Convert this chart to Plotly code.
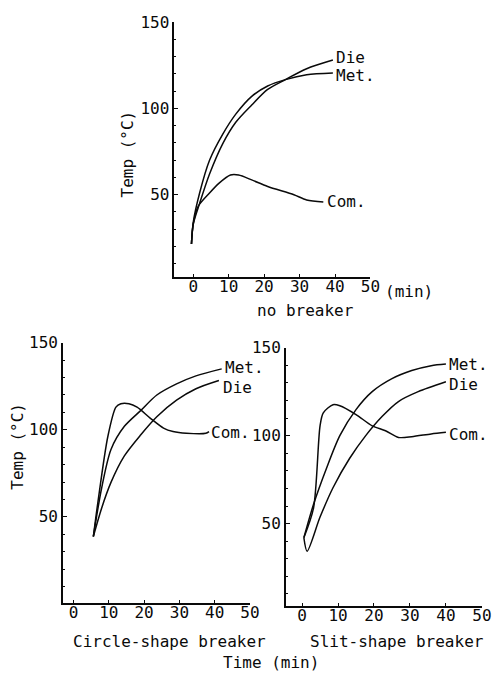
import plotly.graph_objects as go

W, H = 501, 673

# ---- data: no breaker (top) ----
nb_met_x = [-0.5, 0.0, 1.8, 4.6, 8.3, 12.0, 16.5, 21.0, 26.0, 32.0, 39.4]
nb_met_y = [21.5, 34.0, 51.0, 70.0, 85.0, 96.7, 107.0, 113.0, 116.7, 119.5, 120.5]
nb_die_x = [-0.5, 0.0, 1.8, 4.6, 8.3, 12.0, 16.5, 21.0, 26.0, 32.0, 39.4]
nb_die_y = [21.5, 33.0, 45.0, 62.0, 79.5, 92.0, 102.0, 111.0, 116.7, 123.0, 128.0]
nb_com_x = [-0.5, 0.0, 1.4, 4.6, 7.3, 10.5, 12.8, 16.5, 21.0, 28.4, 32.0, 36.7]
nb_com_y = [21.5, 33.0, 43.3, 51.0, 56.7, 61.4, 61.4, 58.6, 54.8, 50.0, 47.0, 45.8]

# ---- data: circle-shape breaker (bottom left) ----
cb_met_x = [5.6, 7.9, 10.6, 14.4, 19.0, 23.6, 29.2, 34.7, 42.0]
cb_met_y = [38.7, 66.0, 88.7, 102.0, 111.0, 120.0, 126.4, 131.0, 135.0]
cb_die_x = [5.6, 7.9, 10.6, 14.4, 19.0, 23.6, 29.2, 34.7, 41.2]
cb_die_y = [38.7, 54.7, 69.8, 85.0, 97.0, 107.5, 117.0, 123.6, 128.3]
cb_com_x = [5.6, 6.9, 9.7, 12.0, 13.4, 15.7, 18.0, 21.8, 25.5, 28.2, 32.0, 37.5, 38.4]
cb_com_y = [38.7, 58.5, 96.0, 113.0, 115.0, 115.0, 113.0, 106.6, 101.0, 99.0, 98.0, 98.0, 99.0]

# ---- data: slit-shape breaker (bottom right) ----
sb_met_x = [0.5, 3.2, 6.8, 10.5, 15.0, 19.5, 25.0, 30.5, 35.9, 40.0]
sb_met_y = [42.0, 61.0, 81.5, 100.0, 114.8, 125.0, 132.4, 137.0, 139.8, 140.7]
sb_die_x = [0.5, 1.4, 5.0, 8.6, 13.2, 17.7, 22.3, 26.8, 32.3, 40.0]
sb_die_y = [42.0, 34.3, 53.7, 70.4, 87.0, 100.0, 111.0, 119.4, 125.0, 130.6]
sb_com_x = [0.5, 3.2, 5.0, 5.9, 8.6, 10.5, 15.0, 19.5, 23.2, 26.8, 30.5, 35.9, 40.0]
sb_com_y = [42.0, 59.0, 105.6, 113.0, 117.6, 117.0, 112.0, 105.6, 102.8, 99.0, 99.4, 101.0, 101.9]

x_ticks = [0, 10, 20, 30, 40, 50]
y_ticks = [50, 100, 150]
panel_titles = ["no breaker", "Circle-shape breaker", "Slit-shape breaker"]
series_names = ["Met.", "Die", "Com."]

INK = "#0a0a0a"
FONT = "DejaVu Sans Mono"
FS = 16


def px(x):
    return x / W


def py(y):
    return 1 - y / H


fig = go.Figure()

panels = [
    ("x", "y", [(nb_met_x, nb_met_y), (nb_die_x, nb_die_y), (nb_com_x, nb_com_y)]),
    ("x2", "y2", [(cb_met_x, cb_met_y), (cb_die_x, cb_die_y), (cb_com_x, cb_com_y)]),
    ("x3", "y3", [(sb_met_x, sb_met_y), (sb_die_x, sb_die_y), (sb_com_x, sb_com_y)]),
]
for xa, ya, series in panels:
    for name, (xs, ys) in zip(series_names, series):
        fig.add_trace(go.Scatter(x=xs, y=ys, mode="lines", name=name, xaxis=xa, yaxis=ya,
                                 line=dict(color=INK, width=1.5, shape="spline", smoothing=0.8),
                                 showlegend=False, hoverinfo="skip"))


def xaxis(domain, rng, anchor):
    return dict(domain=domain, range=rng, anchor=anchor, showline=True, linecolor=INK, linewidth=1.7,
                showgrid=False, zeroline=False, tickvals=x_ticks, ticks="inside", ticklen=3,
                tickcolor=INK, tickwidth=1.2, ticklabelstandoff=-6,
                tickfont=dict(family=FONT, size=FS, color=INK), fixedrange=True)


def yaxis(domain, rng, anchor):
    return dict(domain=domain, range=rng, anchor=anchor, showline=True, linecolor=INK, linewidth=1.7,
                showgrid=False, zeroline=False, tickvals=y_ticks, ticks="inside", ticklen=4,
                tickcolor=INK, tickwidth=1.2,
                minor=dict(dtick=10, tick0=0, ticks="inside", ticklen=2, tickcolor=INK, showgrid=False),
                tickfont=dict(family=FONT, size=FS, color=INK), fixedrange=True)


fig.update_layout(
    width=W, height=H, margin=dict(l=0, r=0, t=0, b=0),
    paper_bgcolor="white", plot_bgcolor="white",
    xaxis=xaxis([px(178), px(378)], [-5.3, 50], "y"),
    yaxis=yaxis([py(271.7), py(13.3)], [2.3, 150], "x"),
    xaxis2=xaxis([px(64.3), px(255)], [-3, 50], "y2"),
    yaxis2=yaxis([py(601.7), py(338.3)], [0.7, 150], "x2"),
    xaxis3=xaxis([px(291.7), px(491.7)], [-4.5, 50], "y3"),
    yaxis3=yaxis([py(605), py(343.3)], [3.2, 150], "x3"),
)

ann = []
lab_font = dict(family=FONT, size=FS, color=INK)
# series labels at curve ends
ends = [
    ("x", "y", [(nb_die_x[-1] + 0.4, nb_die_y[-1] + 1.5, "Die"), (nb_met_x[-1] + 0.4, nb_met_y[-1] - 1.5, "Met."),
                (nb_com_x[-1] + 0.6, nb_com_y[-1], "Com.")]),
    ("x2", "y2", [(cb_met_x[-1] + 0.3, cb_met_y[-1] + 1.0, "Met."), (cb_die_x[-1] + 0.5, cb_die_y[-1] - 3.8, "Die"),
                  (cb_com_x[-1] + 0.1, cb_com_y[-1] - 0.5, "Com.")]),
    ("x3", "y3", [(sb_met_x[-1] + 0.2, sb_met_y[-1] - 0.5, "Met."), (sb_die_x[-1] + 0.3, sb_die_y[-1] - 1.5, "Die"),
                  (sb_com_x[-1] + 0.3, sb_com_y[-1] - 1.0, "Com.")]),
]
for xa, ya, items in ends:
    for x, y, t in items:
        ann.append(dict(x=x, y=y, xref=xa, yref=ya, text=t, showarrow=False, xanchor="left",
                        yanchor="middle", font=lab_font))

# panel titles and axis labels (paper coords)
ann += [
    dict(x=px(391), y=py(286), text="(min)", xanchor="left"),
    dict(x=px(312), y=py(306), text=panel_titles[0], xanchor="center"),
    dict(x=px(173), y=py(641), text=panel_titles[1], xanchor="center"),
    dict(x=px(405), y=py(641), text=panel_titles[2], xanchor="center"),
    dict(x=px(277), y=py(662), text="Time (min)", xanchor="center"),
    dict(x=px(130), y=py(147), text="Temp (°C)", xanchor="center", textangle=-90),
    dict(x=px(17), y=py(443), text="Temp (°C)", xanchor="center", textangle=-90),
]
for a in ann[-7:]:
    a.update(xref="paper", yref="paper", showarrow=False, yanchor="middle", font=lab_font)

fig.update_layout(annotations=ann)
fig.write_html("out.html")
